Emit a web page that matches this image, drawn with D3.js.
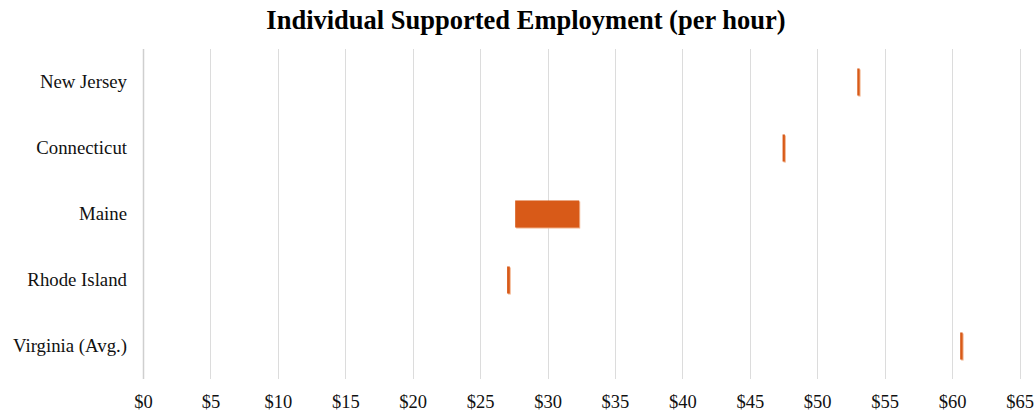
<!DOCTYPE html>
<html>
<head>
<meta charset="utf-8">
<script src="https://cdn.jsdelivr.net/npm/d3@7"></script>
<style>
  html, body { margin: 0; padding: 0; background: #fff; }
  svg { display: block; }
</style>
</head>
<body>
<svg id="chart" width="1034" height="411"></svg>
<script>
// Hourly rate ranges (low to high) for each state
const states = ["New Jersey", "Connecticut", "Maine", "Rhode Island", "Virginia (Avg.)"];
const rateLow = [52.97, 47.43, 27.6, 27.0, 60.6];
const rateHigh = [53.14, 47.6, 32.35, 27.2, 60.78];
const tickValues = [0, 5, 10, 15, 20, 25, 30, 35, 40, 45, 50, 55, 60, 65];

const W = 1034, H = 411;
const margin = { top: 49, right: 14, bottom: 32, left: 143 };
const svg = d3.select("#chart");

const x = d3.scaleLinear().domain([0, 65]).range([margin.left, 1019.5]);
const y = d3.scaleBand().domain(states).range([margin.top, H - margin.bottom])
  .paddingInner(0.59).paddingOuter(0.295);

const serif = "'Liberation Serif', 'Times New Roman', serif";

// Title
svg.append("text")
  .attr("x", 526).attr("y", 29)
  .attr("text-anchor", "middle")
  .attr("font-family", serif)
  .attr("font-weight", "bold")
  .attr("font-size", 26.5)
  .attr("fill", "#000")
  .text("Individual Supported Employment (per hour)");

// Vertical gridlines
svg.append("g")
  .selectAll("line")
  .data(tickValues)
  .join("line")
  .attr("x1", d => Math.round(x(d)) + 0.5)
  .attr("x2", d => Math.round(x(d)) + 0.5)
  .attr("y1", margin.top)
  .attr("y2", H - margin.bottom)
  .attr("stroke", d => d === 0 ? "#cfcfcf" : "#dcdcdc")
  .attr("stroke-width", d => d === 0 ? 1.5 : 1);

// X axis tick labels
const xAxis = d3.axisBottom(x)
  .tickValues(tickValues)
  .tickFormat(d => "$" + d)
  .tickSize(0)
  .tickPadding(0);
const gx = svg.append("g")
  .attr("transform", `translate(0, ${H - margin.bottom + 16})`)
  .call(xAxis);
gx.select(".domain").remove();
gx.selectAll("text")
  .attr("font-family", serif)
  .attr("font-size", 18.5)
  .attr("fill", "#111")
  .attr("dy", "0.71em");

// Y axis category labels
const yAxis = d3.axisLeft(y).tickSize(0).tickPadding(0);
const gy = svg.append("g")
  .attr("transform", `translate(127, 0)`)
  .call(yAxis);
gy.select(".domain").remove();
gy.selectAll("text")
  .attr("font-family", serif)
  .attr("font-size", 18.8)
  .attr("fill", "#111");

// Floating range bars
const rows = states.map((s, i) => ({ state: s, lo: rateLow[i], hi: rateHigh[i] }));

// soft edge shadow
svg.append("g")
  .selectAll("rect")
  .data(rows)
  .join("rect")
  .attr("x", d => x(d.lo) + 1)
  .attr("y", d => y(d.state) + 1)
  .attr("width", d => x(d.hi) - x(d.lo))
  .attr("height", y.bandwidth())
  .attr("fill", "#f2b48f");

svg.append("g")
  .selectAll("rect")
  .data(rows)
  .join("rect")
  .attr("x", d => x(d.lo))
  .attr("y", d => y(d.state))
  .attr("width", d => x(d.hi) - x(d.lo))
  .attr("height", y.bandwidth())
  .attr("fill", "#d85a18");
</script>
</body>
</html>
